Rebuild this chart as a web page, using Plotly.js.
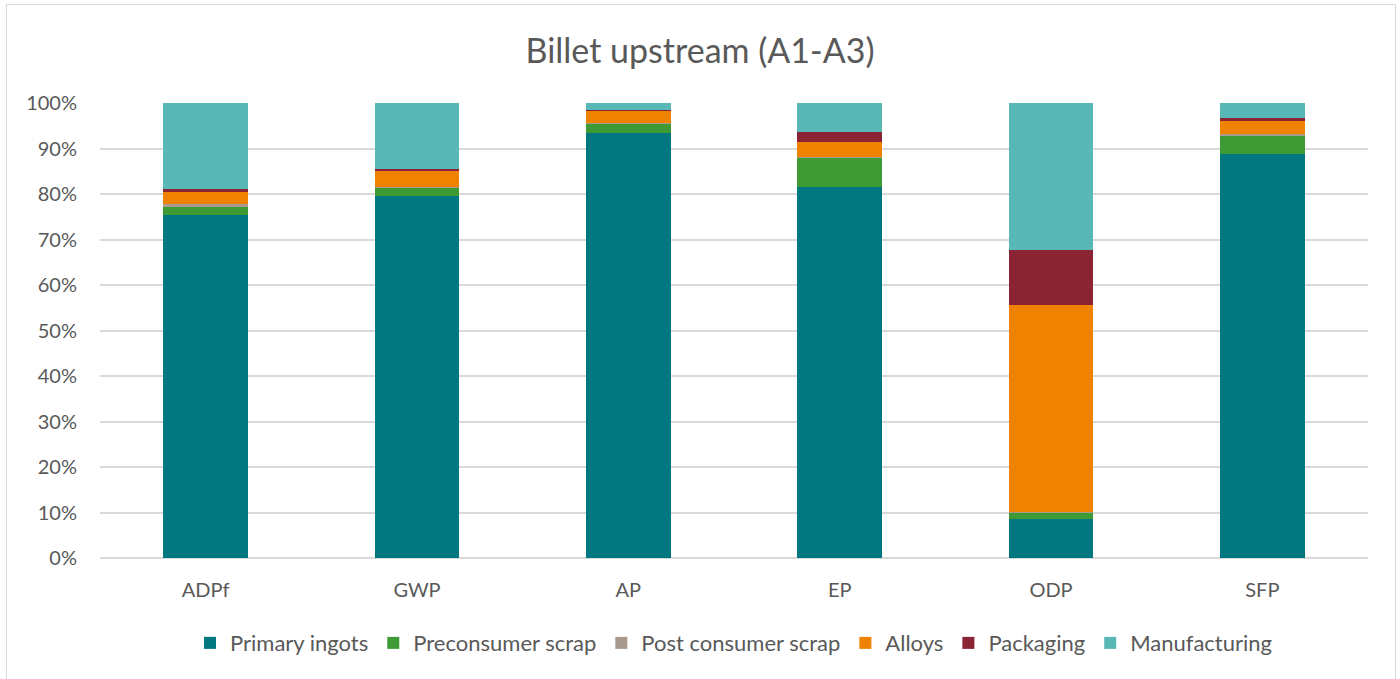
<!DOCTYPE html>
<html>
<head>
<meta charset="utf-8">
<script src="https://cdn.plot.ly/plotly-3.0.1.min.js"></script>
<style>
  html, body { margin: 0; padding: 0; background: #fff; overflow: hidden; }
  #chart { width: 1400px; height: 679px; }
  #frame { position: absolute; left: 6px; top: 4px; width: 1390px; height: 690px; border: 1px solid #d9d9d9; pointer-events: none; box-sizing: border-box; }
</style>
</head>
<body>
<div id="chart"></div>
<div id="frame"></div>
<script>
const categories = ["ADPf", "GWP", "AP", "EP", "ODP", "SFP"];
const primaryIngots     = [75.4, 79.6, 93.4, 81.5, 8.6, 88.9];
const preconsumerScrap  = [1.7, 1.8, 2.2, 6.5, 1.3, 4.0];
const postConsumerScrap = [0.6, 0.1, 0.1, 0.2, 0.2, 0.2];
const alloys            = [2.8, 3.7, 2.6, 3.3, 45.5, 2.9];
const packaging         = [0.6, 0.3, 0.2, 2.2, 12.1, 0.7];
const manufacturing     = [18.9, 14.5, 1.5, 6.3, 32.3, 3.3];
const yTickVals = [0, 10, 20, 30, 40, 50, 60, 70, 80, 90, 100];
const yTickText = ["0%", "10%", "20%", "30%", "40%", "50%", "60%", "70%", "80%", "90%", "100%"];

const seriesList = [
  { name: "Primary ingots", values: primaryIngots, color: "#01777F" },
  { name: "Preconsumer scrap", values: preconsumerScrap, color: "#3D9A35" },
  { name: "Post consumer scrap", values: postConsumerScrap, color: "#A89A8E" },
  { name: "Alloys", values: alloys, color: "#EF8200" },
  { name: "Packaging", values: packaging, color: "#8A2334" },
  { name: "Manufacturing", values: manufacturing, color: "#57B8B6" }
];

const fontFam = "Lato, 'Open Sans', sans-serif";

const traces = seriesList.map(s => ({
  type: "bar",
  name: s.name,
  x: categories,
  y: s.values,
  marker: { color: s.color, line: { width: 0 } },
  hoverinfo: "x+y+name"
}));

const layout = {
  width: 1400,
  height: 679,
  barmode: "stack",
  bargap: 0.6,
  paper_bgcolor: "#ffffff",
  plot_bgcolor: "#ffffff",
  margin: { l: 100, r: 32, t: 103, b: 121 },
  font: { family: fontFam, color: "#595959", size: 20 },
  title: {
    text: "Billet upstream (A1-A3)",
    font: { family: fontFam, size: 34, color: "#595959" },
    x: 0.5, xanchor: "center",
    y: 0.925, yanchor: "middle"
  },
  xaxis: {
    type: "category",
    showgrid: false,
    showline: false,
    zeroline: false,
    ticks: "",
    ticklen: 0,
    ticklabelstandoff: 18,
    tickfont: { family: fontFam, size: 20, color: "#595959" }
  },
  yaxis: {
    range: [0, 100],
    tickvals: yTickVals,
    ticktext: yTickText,
    showgrid: true,
    gridcolor: "#d9d9d9",
    gridwidth: 1.5,
    zeroline: true,
    zerolinecolor: "#d9d9d9",
    zerolinewidth: 1.5,
    showline: false,
    ticks: "",
    ticklabelstandoff: 22,
    tickfont: { family: fontFam, size: 20, color: "#595959" }
  },
  legend: {
    orientation: "h",
    x: 0.5, xanchor: "center",
    y: -0.187, yanchor: "middle",
    font: { family: fontFam, size: 22, color: "#595959" },
    traceorder: "normal",
    itemclick: false
  },
  showlegend: true
};

Plotly.newPlot("chart", traces, layout, { displayModeBar: false, responsive: false });
</script>
</body>
</html>
